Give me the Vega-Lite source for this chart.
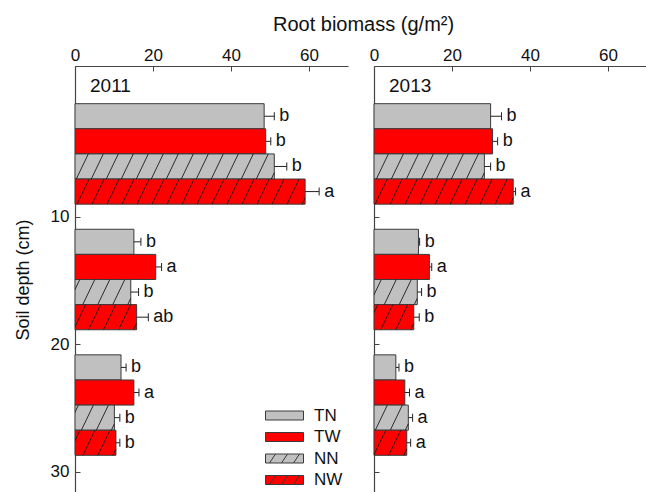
{
  "$schema": "https://vega.github.io/schema/vega-lite/v6.json",
  "background": "white",
  "padding": {"left": 14, "top": 15, "right": 0, "bottom": 0},
  "title": {
    "text": "Root biomass (g/m²)",
    "fontSize": 20,
    "fontWeight": "normal",
    "color": "#111111",
    "anchor": "middle",
    "dx": 33,
    "offset": 11
  },
  "config": {
    "font": "Liberation Sans",
    "view": {"stroke": null},
    "axis": {
      "grid": false,
      "domainColor": "#444444",
      "domainWidth": 1.2,
      "tickColor": "#444444",
      "tickWidth": 1,
      "labelColor": "#111111",
      "labelFontSize": 17,
      "titleColor": "#111111",
      "titleFontSize": 18,
      "titleFontWeight": "normal",
      "zindex": 1
    }
  },
  "data": {
    "values": [
      {"year": "2011", "depth": "0-10", "treatment": "TN", "biomass": 48.5, "se": 2.6, "letter": "b"},
      {"year": "2011", "depth": "0-10", "treatment": "TW", "biomass": 48.9, "se": 1.3, "letter": "b"},
      {"year": "2011", "depth": "0-10", "treatment": "NN", "biomass": 51.1, "se": 3.2, "letter": "b"},
      {"year": "2011", "depth": "0-10", "treatment": "NW", "biomass": 59.0, "se": 3.6, "letter": "a"},
      {"year": "2011", "depth": "10-20", "treatment": "TN", "biomass": 15.1, "se": 1.8, "letter": "b"},
      {"year": "2011", "depth": "10-20", "treatment": "TW", "biomass": 20.7, "se": 1.5, "letter": "a"},
      {"year": "2011", "depth": "10-20", "treatment": "NN", "biomass": 14.3, "se": 2.0, "letter": "b"},
      {"year": "2011", "depth": "10-20", "treatment": "NW", "biomass": 15.8, "se": 3.0, "letter": "ab"},
      {"year": "2011", "depth": "20-30", "treatment": "TN", "biomass": 11.8, "se": 1.3, "letter": "b"},
      {"year": "2011", "depth": "20-30", "treatment": "TW", "biomass": 15.1, "se": 1.3, "letter": "a"},
      {"year": "2011", "depth": "20-30", "treatment": "NN", "biomass": 10.1, "se": 1.4, "letter": "b"},
      {"year": "2011", "depth": "20-30", "treatment": "NW", "biomass": 10.5, "se": 1.0, "letter": "b"},
      {"year": "2013", "depth": "0-10", "treatment": "TN", "biomass": 29.9, "se": 2.8, "letter": "b"},
      {"year": "2013", "depth": "0-10", "treatment": "TW", "biomass": 30.4, "se": 1.3, "letter": "b"},
      {"year": "2013", "depth": "0-10", "treatment": "NN", "biomass": 28.3, "se": 1.6, "letter": "b"},
      {"year": "2013", "depth": "0-10", "treatment": "NW", "biomass": 35.7, "se": 0.6, "letter": "a"},
      {"year": "2013", "depth": "10-20", "treatment": "TN", "biomass": 11.4, "se": 0.3, "letter": "b"},
      {"year": "2013", "depth": "10-20", "treatment": "TW", "biomass": 14.2, "se": 0.6, "letter": "a"},
      {"year": "2013", "depth": "10-20", "treatment": "NN", "biomass": 11.1, "se": 1.1, "letter": "b"},
      {"year": "2013", "depth": "10-20", "treatment": "NW", "biomass": 10.2, "se": 1.4, "letter": "b"},
      {"year": "2013", "depth": "20-30", "treatment": "TN", "biomass": 5.6, "se": 0.8, "letter": "b"},
      {"year": "2013", "depth": "20-30", "treatment": "TW", "biomass": 7.9, "se": 1.2, "letter": "a"},
      {"year": "2013", "depth": "20-30", "treatment": "NN", "biomass": 8.8, "se": 1.1, "letter": "a"},
      {"year": "2013", "depth": "20-30", "treatment": "NW", "biomass": 8.4, "se": 1.0, "letter": "a"}
    ]
  },
  "spacing": 21,
  "resolve": {"scale": {"fill": "independent"}, "legend": {"fill": "independent"}},
  "hconcat": [
    {
      "width": 273,
      "height": 427,
      "transform": [
        {"filter": "datum.year === '2011'"},
        {"calculate": "datum.biomass + datum.se", "as": "upper"}
      ],
      "resolve": {"scale": {"y": "independent"}, "axis": {"y": "independent"}},
      "layer": [
        {
          "transform": [{"aggregate": [{"op": "count", "as": "n"}], "groupby": ["year"]}],
          "mark": {"type": "text", "align": "left", "baseline": "middle", "fontSize": 19, "dx": 15, "color": "#111111"},
          "encoding": {
            "x": {"datum": 0, "type": "quantitative", "scale": {"domain": [0, 70], "nice": false},
              "axis": {"orient": "top", "values": [0, 20, 40, 60], "title": null, "tickSize": -5, "labelPadding": 7, "labelFlush": false}},
            "y": {"datum": -0.25, "type": "quantitative",
              "scale": {"domain": [-1.8, 31.66], "nice": false, "zero": false, "reverse": true},
              "axis": {"orient": "left", "values": [10, 20, 30], "title": "Soil depth (cm)", "tickSize": -5, "labelPadding": 11, "titlePadding": 18}},
            "text": {"field": "year"}
          }
        },
        {
          "mark": {"type": "bar", "stroke": "#3a3a3a", "strokeWidth": 1},
          "encoding": {
            "y": {"field": "depth", "type": "ordinal", "sort": ["0-10", "10-20", "20-30"], "scale": {"paddingInner": 0.2, "paddingOuter": 0.3}, "axis": null},
            "yOffset": {"field": "treatment", "sort": ["TN", "TW", "NN", "NW"]},
            "x": {"field": "biomass", "type": "quantitative", "scale": {"domain": [0, 70], "nice": false},
              "axis": {"orient": "top", "values": [0, 20, 40, 60], "title": null, "tickSize": -5, "labelPadding": 7, "labelFlush": false}},
            "fill": {"field": "treatment", "type": "nominal",
              "scale": {"domain": ["TN", "TW", "NN", "NW"], "range": ["#c0c0c0", "#ff0000", "#c0c0c0", "#ff0000"]},
              "legend": {
                "title": null,
                "orient": "bottom-right",
                "offset": 5.5,
                "labelFontSize": 17,
                "labelColor": "#111111",
                "symbolSize": 4,
                "symbolStrokeColor": "#3a3a3a",
                "symbolStrokeWidth": 1,
                "labelOffset": 21,
                "rowPadding": 3.5,
                "encode": {
                  "symbols": {
                    "update": {
                      "shape": {"signal": "indexof(['NN', 'NW'], datum.value) >= 0 ? 'M-19,-4.5H19V4.5H-19ZM-15,4.5L-9,-4.5M-3,4.5L3,-4.5M9,4.5L15,-4.5' : 'M-19,-4.5H19V4.5H-19Z'"}
                    }
                  }
                }
              }
            }
          }
        },
        {
          "transform": [{"filter": "indexof(['NN', 'NW'], datum.treatment) >= 0"}],
          "mark": {"type": "point", "filled": false, "size": 4, "opacity": 1, "stroke": "#1a1a1a", "strokeWidth": 0.9, "clip": true,
            "shape": "M-3,12.5L0,6.25M-18,12.5L-6,-12.5M-33,12.5L-21,-12.5M-48,12.5L-36,-12.5M-63,12.5L-51,-12.5M-78,12.5L-66,-12.5M-93,12.5L-81,-12.5M-108,12.5L-96,-12.5M-123,12.5L-111,-12.5M-138,12.5L-126,-12.5M-153,12.5L-141,-12.5M-168,12.5L-156,-12.5M-183,12.5L-171,-12.5M-198,12.5L-186,-12.5M-213,12.5L-201,-12.5M-228,12.5L-216,-12.5M-243,12.5L-231,-12.5M-258,12.5L-246,-12.5M-273,12.5L-261,-12.5M-288,12.5L-276,-12.5"},
          "encoding": {
            "y": {"field": "depth", "type": "ordinal", "sort": ["0-10", "10-20", "20-30"], "scale": {"paddingInner": 0.2, "paddingOuter": 0.3}, "axis": null},
            "yOffset": {"field": "treatment", "sort": ["TN", "TW", "NN", "NW"]},
            "x": {"field": "biomass", "type": "quantitative"}
          }
        },
        {
          "mark": {"type": "rule", "stroke": "#222222", "strokeWidth": 1},
          "encoding": {
            "y": {"field": "depth", "type": "ordinal", "sort": ["0-10", "10-20", "20-30"], "scale": {"paddingInner": 0.2, "paddingOuter": 0.3}, "axis": null},
            "yOffset": {"field": "treatment", "sort": ["TN", "TW", "NN", "NW"]},
            "x": {"field": "biomass", "type": "quantitative"},
            "x2": {"field": "upper"}
          }
        },
        {
          "mark": {"type": "tick", "orient": "vertical", "size": 8, "thickness": 1, "color": "#222222", "opacity": 1},
          "encoding": {
            "y": {"field": "depth", "type": "ordinal", "sort": ["0-10", "10-20", "20-30"], "scale": {"paddingInner": 0.2, "paddingOuter": 0.3}, "axis": null},
            "yOffset": {"field": "treatment", "sort": ["TN", "TW", "NN", "NW"]},
            "x": {"field": "upper", "type": "quantitative"}
          }
        },
        {
          "mark": {"type": "text", "align": "left", "baseline": "middle", "dx": 5, "fontSize": 18, "color": "#111111"},
          "encoding": {
            "y": {"field": "depth", "type": "ordinal", "sort": ["0-10", "10-20", "20-30"], "scale": {"paddingInner": 0.2, "paddingOuter": 0.3}, "axis": null},
            "yOffset": {"field": "treatment", "sort": ["TN", "TW", "NN", "NW"]},
            "x": {"field": "upper", "type": "quantitative"},
            "text": {"field": "letter"}
          }
        }
      ]
    },
    {
      "width": 273,
      "height": 427,
      "transform": [
        {"filter": "datum.year === '2013'"},
        {"calculate": "datum.biomass + datum.se", "as": "upper"}
      ],
      "resolve": {"scale": {"y": "independent"}, "axis": {"y": "independent"}},
      "layer": [
        {
          "transform": [{"aggregate": [{"op": "count", "as": "n"}], "groupby": ["year"]}],
          "mark": {"type": "text", "align": "left", "baseline": "middle", "fontSize": 19, "dx": 15, "color": "#111111"},
          "encoding": {
            "x": {"datum": 0, "type": "quantitative", "scale": {"domain": [0, 70], "nice": false},
              "axis": {"orient": "top", "values": [0, 20, 40, 60], "title": null, "tickSize": -5, "labelPadding": 7, "labelFlush": false}},
            "y": {"datum": -0.25, "type": "quantitative",
              "scale": {"domain": [-1.8, 31.66], "nice": false, "zero": false, "reverse": true},
              "axis": {"orient": "left", "values": [10, 20, 30], "title": null, "labels": false, "tickSize": -5}},
            "text": {"field": "year"}
          }
        },
        {
          "mark": {"type": "bar", "stroke": "#3a3a3a", "strokeWidth": 1},
          "encoding": {
            "y": {"field": "depth", "type": "ordinal", "sort": ["0-10", "10-20", "20-30"], "scale": {"paddingInner": 0.2, "paddingOuter": 0.3}, "axis": null},
            "yOffset": {"field": "treatment", "sort": ["TN", "TW", "NN", "NW"]},
            "x": {"field": "biomass", "type": "quantitative", "scale": {"domain": [0, 70], "nice": false},
              "axis": {"orient": "top", "values": [0, 20, 40, 60], "title": null, "tickSize": -5, "labelPadding": 7, "labelFlush": false}},
            "fill": {"field": "treatment", "type": "nominal",
              "scale": {"domain": ["TN", "TW", "NN", "NW"], "range": ["#c0c0c0", "#ff0000", "#c0c0c0", "#ff0000"]},
              "legend": null}
          }
        },
        {
          "transform": [{"filter": "indexof(['NN', 'NW'], datum.treatment) >= 0"}],
          "mark": {"type": "point", "filled": false, "size": 4, "opacity": 1, "stroke": "#1a1a1a", "strokeWidth": 0.9, "clip": true,
            "shape": "M-3,12.5L0,6.25M-18,12.5L-6,-12.5M-33,12.5L-21,-12.5M-48,12.5L-36,-12.5M-63,12.5L-51,-12.5M-78,12.5L-66,-12.5M-93,12.5L-81,-12.5M-108,12.5L-96,-12.5M-123,12.5L-111,-12.5M-138,12.5L-126,-12.5M-153,12.5L-141,-12.5M-168,12.5L-156,-12.5M-183,12.5L-171,-12.5M-198,12.5L-186,-12.5M-213,12.5L-201,-12.5M-228,12.5L-216,-12.5M-243,12.5L-231,-12.5M-258,12.5L-246,-12.5M-273,12.5L-261,-12.5M-288,12.5L-276,-12.5"},
          "encoding": {
            "y": {"field": "depth", "type": "ordinal", "sort": ["0-10", "10-20", "20-30"], "scale": {"paddingInner": 0.2, "paddingOuter": 0.3}, "axis": null},
            "yOffset": {"field": "treatment", "sort": ["TN", "TW", "NN", "NW"]},
            "x": {"field": "biomass", "type": "quantitative"}
          }
        },
        {
          "mark": {"type": "rule", "stroke": "#222222", "strokeWidth": 1},
          "encoding": {
            "y": {"field": "depth", "type": "ordinal", "sort": ["0-10", "10-20", "20-30"], "scale": {"paddingInner": 0.2, "paddingOuter": 0.3}, "axis": null},
            "yOffset": {"field": "treatment", "sort": ["TN", "TW", "NN", "NW"]},
            "x": {"field": "biomass", "type": "quantitative"},
            "x2": {"field": "upper"}
          }
        },
        {
          "mark": {"type": "tick", "orient": "vertical", "size": 8, "thickness": 1, "color": "#222222", "opacity": 1},
          "encoding": {
            "y": {"field": "depth", "type": "ordinal", "sort": ["0-10", "10-20", "20-30"], "scale": {"paddingInner": 0.2, "paddingOuter": 0.3}, "axis": null},
            "yOffset": {"field": "treatment", "sort": ["TN", "TW", "NN", "NW"]},
            "x": {"field": "upper", "type": "quantitative"}
          }
        },
        {
          "mark": {"type": "text", "align": "left", "baseline": "middle", "dx": 5, "fontSize": 18, "color": "#111111"},
          "encoding": {
            "y": {"field": "depth", "type": "ordinal", "sort": ["0-10", "10-20", "20-30"], "scale": {"paddingInner": 0.2, "paddingOuter": 0.3}, "axis": null},
            "yOffset": {"field": "treatment", "sort": ["TN", "TW", "NN", "NW"]},
            "x": {"field": "upper", "type": "quantitative"},
            "text": {"field": "letter"}
          }
        }
      ]
    }
  ]
}
